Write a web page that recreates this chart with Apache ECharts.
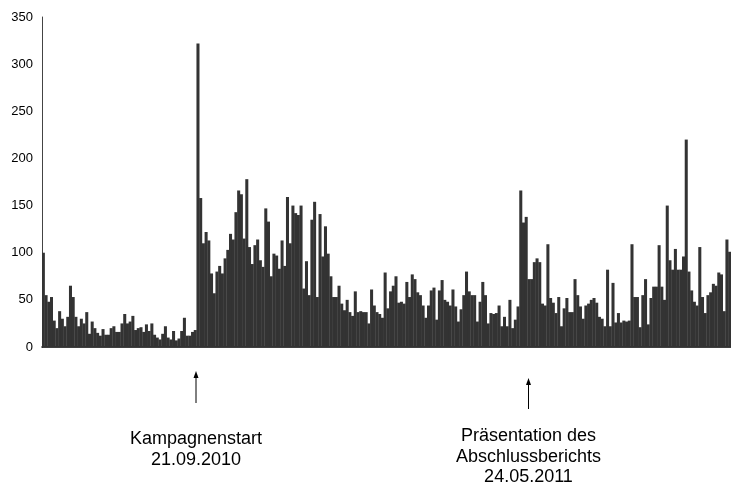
<!DOCTYPE html>
<html><head><meta charset="utf-8">
<script src="https://cdn.jsdelivr.net/npm/echarts@6/dist/echarts.min.js"></script>
<style>html,body{margin:0;padding:0;background:#fff}#c{width:731px;height:487px}</style>
</head><body><div id="c"></div>
<script>
// Daily visits
const beforeCampaign = [100,55,48,53,28,20,38,30,22,32,65,53,32,22,30,25,37,14,27,20,15,12,19,13,13,20,22,16,16,25,35,25,27,33,18,20,21,16,24,17,25,13,10,8,14,22,10,8,17,7,9,17,31,12,12,16,18];
const campaignStart = [322];
const afterStartA = [158,110,122,113,78,57,80,86,78,94,103,120,114,143,166,162,115,178,106];
const afterStartB = [88,108,114,92,85,147,133,75,99,97,83,113,86,159,110,150,142,140,150,62,91,55,135,154,53,141,96,128,99,75];
const winterPart = [53,53,65,46,39,50,37,33,59,37,38,37,37,25,61,44,37,35,31,79,41,59,65,75,47];
const springPart = [48,46,69,53,77,72,58,55,44,31,44,60,63,29,60,71,50,48,44,61,43,27,40,55,80,59,55,55,27,48,69];
const beforeReport = [55,25,36,35,36,44,22,32,22,50,20,29,43];
const reportDay = [166];
const afterReport = [132,138,72,72,90,94,90,46,44,109,52,47,36,53,22,41,52,37,37,72,55,43,30,44,46,50,52,47,32,30,22,82,22,68,26,36,26,28,27,28,109,53,53,21,55,72,24,52,64,64,108,64,50,150,92,82,104,82,82,96];
const latepart = [220,80,60,48,44,106,53,36,55,58,67,65,79,77,38,114,101];

const values = [].concat(beforeCampaign, campaignStart, afterStartA, afterStartB, winterPart, springPart, beforeReport, reportDay, afterReport, latepart);
const categories = values.map((_, i) => String(i + 1));

const yMin = 0, yMax = 350, yStep = 50;
const annotations = [
  { text: 'Kampagnenstart\n21.09.2010' },
  { text: 'Präsentation des\nAbschlussberichts\n24.05.2011' }
];

const FONT = '"Liberation Sans", Arial, sans-serif';
const chart = echarts.init(document.getElementById('c'), null, { renderer: 'canvas' });

function arrow(x, yTip, yEnd) {
  return [
    { type: 'line', shape: { x1: x, y1: yTip + 5, x2: x, y2: yEnd }, style: { stroke: '#000', lineWidth: 1 } },
    { type: 'polygon', shape: { points: [[x, yTip], [x - 2.5, yTip + 7], [x + 2.5, yTip + 7]] }, style: { fill: '#000' } }
  ];
}

chart.setOption({
  animation: false,
  backgroundColor: '#fff',
  grid: { left: 42, right: 0, top: 17, bottom: 140 },
  xAxis: {
    type: 'category',
    data: categories,
    axisLine: { show: true, lineStyle: { color: '#000', width: 1.5 } },
    axisTick: { show: false },
    axisLabel: { show: false },
    splitLine: { show: false }
  },
  yAxis: {
    type: 'value',
    min: yMin, max: yMax, interval: yStep,
    axisLine: { show: true, lineStyle: { color: '#444', width: 1 } },
    axisTick: { show: false },
    splitLine: { show: false },
    axisLabel: { color: '#000', fontSize: 13, fontFamily: FONT, margin: 9 }
  },
  series: [{
    type: 'bar',
    data: values,
    barWidth: '112%',
    itemStyle: { color: '#333333' }
  }],
  graphic: [].concat(
    arrow(196, 371, 403),
    arrow(528.5, 378, 409),
    [
      { type: 'text', x: 196, y: 429, style: { text: annotations[0].text, fill: '#000', font: '18px ' + FONT, textAlign: 'center', textVerticalAlign: 'top', lineHeight: 20.5 } },
      { type: 'text', x: 528.5, y: 426, style: { text: annotations[1].text, fill: '#000', font: '18px ' + FONT, textAlign: 'center', textVerticalAlign: 'top', lineHeight: 20.5 } }
    ]
  )
});
</script>
</body></html>
